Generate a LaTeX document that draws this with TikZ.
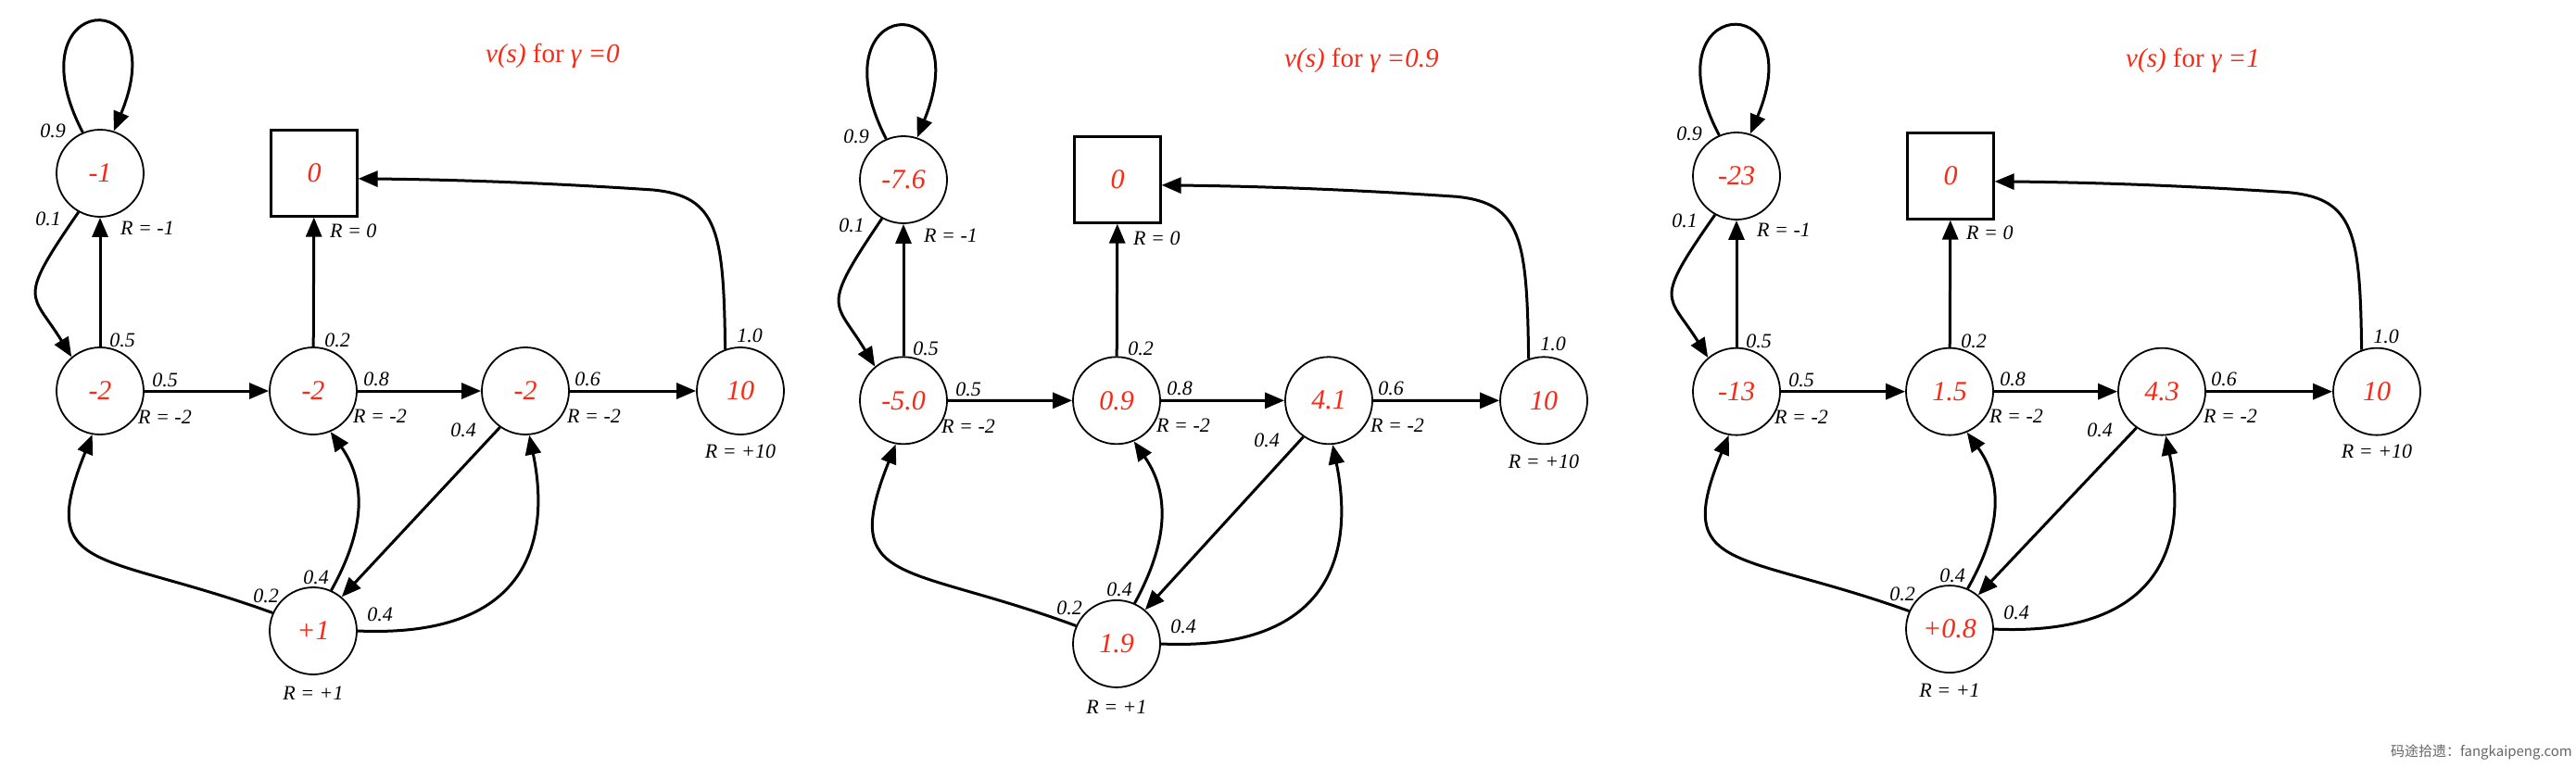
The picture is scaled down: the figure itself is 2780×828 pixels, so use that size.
\documentclass[tikz,border=0pt]{standalone}
\usepackage{fontspec}
\setmainfont{Liberation Serif}
\newfontfamily\cjkfont{Noto Sans CJK SC}
\usetikzlibrary{arrows.meta,calc}
\definecolor{valred}{RGB}{250,40,20}
\tikzset{
  state/.style={circle, draw, line width=1.8pt, minimum size=94pt, inner sep=0pt,
    font=\fontsize{30}{32}\selectfont\itshape, text=valred},
  termbox/.style={rectangle, draw, line width=2.2pt, minimum size=93pt, inner sep=0pt,
    font=\fontsize{30}{32}\selectfont\itshape, text=valred},
  trans/.style={line width=3pt, -{Triangle[length=21pt,width=17pt]}},
  prob/.style={font=\fontsize{22}{24}\selectfont\itshape, inner sep=0pt},
  rew/.style={font=\fontsize{22}{24}\selectfont\itshape, inner sep=0pt},
  ttl/.style={font=\fontsize{29}{31}\selectfont, text=valred, inner sep=0pt, anchor=base west}
}
% #1 prefix, #2 #3 shift, #4 yscale, #5..#9 values of A B C D F
\newcommand\mdppanel[9]{%
\begin{scope}[shift={(#2,#3)}, yscale=#4]
  \node[state] (#1A) at (0,0) {#5};
  \node[termbox] (#1T) at (231,0) {0};
  \node[state] (#1B) at (0,235) {#6};
  \node[state] (#1C) at (230,235) {#7};
  \node[state] (#1D) at (459,235) {#8};
  \node[state] (#1E) at (691,235) {10};
  \node[state] (#1F) at (230,494) {#9};
  % rewards
  \node[rew, anchor=west] (#1rA) at (22,59) {R = -1};
  \node[rew, anchor=west] (#1rT) at (248,62) {R = 0};
  \node[rew, anchor=west] (#1rB) at (41,263) {R = -2};
  \node[rew, anchor=west] (#1rC) at (273,262) {R = -2};
  \node[rew, anchor=west] (#1rD) at (504,262) {R = -2};
  \node[rew] (#1rE) at (691,300) {R = +10};
  \node[rew] (#1rF) at (230,561) {R = +1};
  % probabilities
  \node[prob] (#1p1) at (-51,-46) {0.9};
  \node[prob] (#1p2) at (-56,49) {0.1};
  \node[prob] (#1p3) at (24,180) {0.5};
  \node[prob] (#1p4) at (70,223) {0.5};
  \node[prob] (#1p5) at (256,180) {0.2};
  \node[prob] (#1p6) at (298,222) {0.8};
  \node[prob] (#1p7) at (526,222) {0.6};
  \node[prob] (#1p8) at (392,277) {0.4};
  \node[prob] (#1p9) at (701,175) {1.0};
  \node[prob] (#1p10) at (179,456) {0.2};
  \node[prob] (#1p11) at (233,436) {0.4};
  \node[prob] (#1p12) at (302,476) {0.4};
  % transitions
  \draw[trans] (#1A.113) .. controls (-98,-197) and (82,-207) .. (#1A.72);
  \draw[trans] (#1A.241) .. controls (-91,140) and (-74,128) .. (#1B.130);
  \draw[trans] (#1B) -- (#1A);
  \draw[trans] (#1B) -- (#1C);
  \draw[trans] (#1C) -- (#1T);
  \draw[trans] (#1C) -- (#1D);
  \draw[trans] (#1D) -- (#1E);
  \draw[trans] (#1D.235) -- (#1F.50);
  \draw[trans] (#1E.110) .. controls (673,63) and (667,25) .. (597,18)
     .. controls (492,11) and (392,7) .. (#1T.-7);
  \draw[trans] (#1F.156) .. controls (0,407) and (-70,434) .. (#1B.260);
  \draw[trans] (#1F.66) .. controls (287,383) and (287,333) .. (#1C.293);
  \draw[trans] (#1F.east) .. controls (482,503) and (482,373) .. (#1D.275);
\end{scope}}
\begin{document}
\begin{tikzpicture}[x=1pt,y=-1pt]
  \fill[white] (0,0) rectangle (2780,828);
  \useasboundingbox (0,0) rectangle (2780,828);
  \mdppanel{a}{108}{187}{1}{-1}{-2}{-2}{-2}{+1}
  \mdppanel{b}{975}{194}{1.014}{-7.6}{-5.0}{0.9}{4.1}{1.9}
  \mdppanel{c}{1874}{190}{0.99}{-23}{-13}{1.5}{4.3}{+0.8}
  \node[ttl] (t1) at (524,67) {\itshape v(s)\upshape{} for \itshape γ =0};
  \node[ttl] (t2) at (1386,72) {\itshape v(s)\upshape{} for \itshape γ =0.9};
  \node[ttl] (t3) at (2294,72) {\itshape v(s)\upshape{} for \itshape γ =1};
  \node[anchor=east, inner sep=0pt, text=black!60, font=\cjkfont\fontsize{15}{16}\selectfont] (wm) at (2776,812) {码途拾遗：fangkaipeng.com};
\end{tikzpicture}
\end{document}
